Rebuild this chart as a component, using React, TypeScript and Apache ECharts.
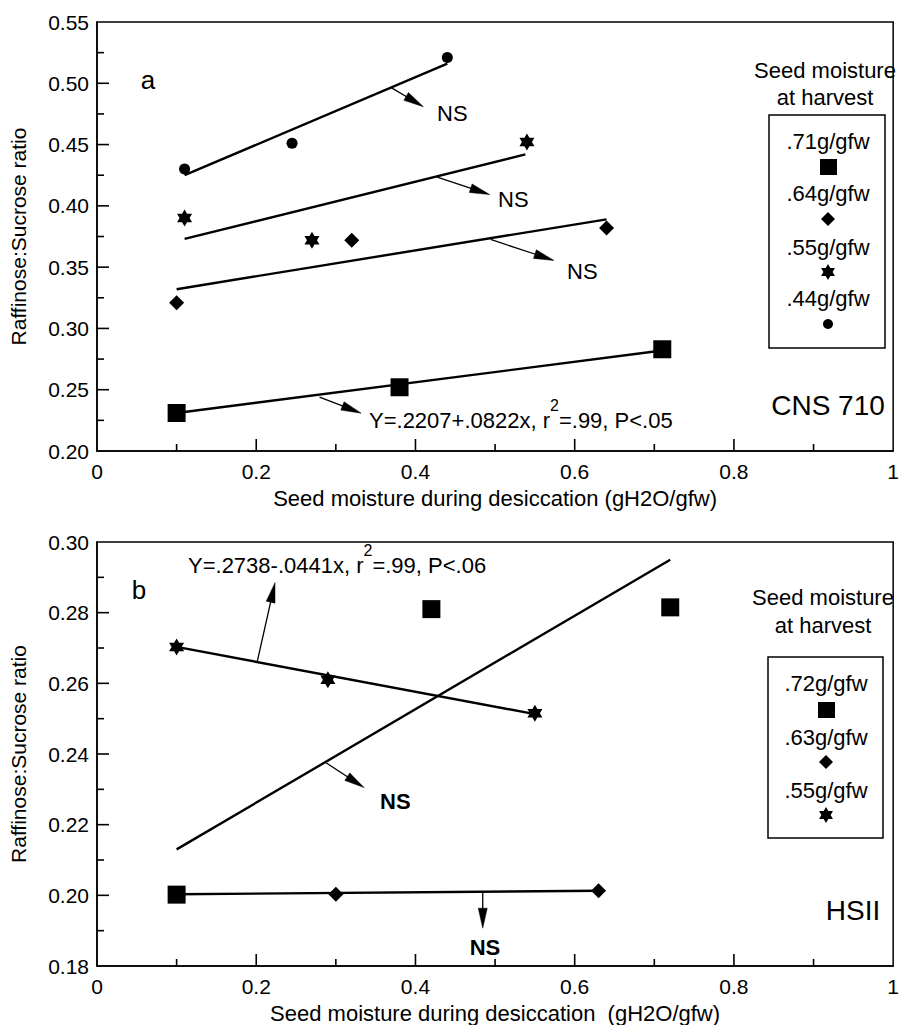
import React, { useEffect, useRef } from 'react';
import * as echarts from 'echarts';

const FONT = '"Liberation Sans", Arial, Helvetica, sans-serif';

const xTickLabels = ['0', '0.2', '0.4', '0.6', '0.8', '1'];
const yTickLabelsA = ['0.20', '0.25', '0.30', '0.35', '0.40', '0.45', '0.50', '0.55'];
const yTickLabelsB = ['0.18', '0.20', '0.22', '0.24', '0.26', '0.28', '0.30'];
const xMajorTicks = [0.2, 0.4, 0.6, 0.8];
const xMinorTicks = [0.1, 0.3, 0.5, 0.7, 0.9];
const yMajorTicksA = [0.25, 0.30, 0.35, 0.40, 0.45, 0.50];
const yMinorTicksA = [0.225, 0.275, 0.325, 0.375, 0.425, 0.475, 0.525];
const yMajorTicksB = [0.20, 0.22, 0.24, 0.26, 0.28];
const yMinorTicksB = [0.19, 0.21, 0.23, 0.25, 0.27, 0.29];

const a71 = [[0.10, 0.231], [0.38, 0.252], [0.71, 0.283]];
const a64 = [[0.10, 0.321], [0.32, 0.372], [0.64, 0.382]];
const a55 = [[0.11, 0.390], [0.27, 0.372], [0.54, 0.452]];
const a44 = [[0.11, 0.430], [0.245, 0.451], [0.44, 0.521]];
const a71Fit = [[0.10, 0.231], [0.71, 0.282]];
const a64Fit = [[0.10, 0.332], [0.64, 0.389]];
const a55Fit = [[0.11, 0.373], [0.538, 0.442]];
const a44Fit = [[0.11, 0.425], [0.44, 0.516]];
const aArrows = [
  [0.370, 0.4963, 0.4099, 0.4809],
  [0.4273, 0.4235, 0.4932, 0.4092],
  [0.4944, 0.3726, 0.5739, 0.3555],
  [0.2795, 0.2440, 0.3317, 0.2309],
];

const b72 = [[0.10, 0.2002], [0.42, 0.281], [0.72, 0.2815]];
const b63 = [[0.30, 0.2003], [0.63, 0.2013]];
const b55 = [[0.10, 0.2703], [0.29, 0.261], [0.55, 0.2515]];
const b72Fit = [[0.10, 0.213], [0.72, 0.295]];
const b63Fit = [[0.10, 0.2003], [0.63, 0.2013]];
const b55Fit = [[0.10, 0.2703], [0.55, 0.2513]];
const bArrows = [
  [0.2012, 0.2661, 0.2236, 0.2885],
  [0.2857, 0.2378, 0.3354, 0.2305],
  [0.4845, 0.2010, 0.4845, 0.1907],
];

const STAR_PATH =
  'path://M0,-10 L2.887,-5 L8.66,-5 L5.774,0 L8.66,5 L2.887,5 L0,10 L-2.887,5 L-8.66,5 L-5.774,0 L-8.66,-5 L-2.887,-5 Z';

function starPoints(cx: number, cy: number, r: number) {
  const pts: number[][] = [];
  for (let i = 0; i < 12; i++) {
    const ang = (-90 + i * 30) * Math.PI / 180;
    const rr = i % 2 === 0 ? r : r / Math.sqrt(3);
    pts.push([cx + rr * Math.cos(ang), cy + rr * Math.sin(ang)]);
  }
  return pts;
}

function text(x: number, y: number, t: string, size: number, align = 'center', weight = 'normal') {
  return {
    type: 'text', x, y, z: 50,
    style: { text: t, fill: '#000', fontSize: size, fontFamily: FONT, fontWeight: weight, align, verticalAlign: 'middle' },
  };
}

function equation(x: number, y: number, before: string, after: string) {
  return {
    type: 'text', x, y, z: 50,
    style: {
      text: `{a|${before}}{s|2}{a|${after}}`,
      fill: '#000', fontFamily: FONT, fontSize: 22, align: 'left', verticalAlign: 'middle',
      rich: {
        a: { fontSize: 22, fontFamily: FONT, fill: '#000', lineHeight: 34, verticalAlign: 'bottom' },
        s: { fontSize: 16, fontFamily: FONT, fill: '#000', verticalAlign: 'top' },
      },
    },
  };
}

function legendGraphic(cx: number, titleY: number[], box: number[], entries: { label: string; ly: number; sy: number; kind: string }[]) {
  const els: any[] = [];
  els.push(text(cx - 3, titleY[0], 'Seed moisture', 22));
  els.push(text(cx - 3, titleY[1], 'at harvest', 22));
  els.push({
    type: 'rect', z: 40,
    shape: { x: box[0], y: box[1], width: box[2] - box[0], height: box[3] - box[1] },
    style: { fill: 'none', stroke: '#000', lineWidth: 1.5 },
  });
  entries.forEach((e) => {
    els.push(text(cx, e.ly, e.label, 22));
    if (e.kind === 'rect') {
      els.push({ type: 'rect', z: 50, shape: { x: cx - 8, y: e.sy - 8, width: 17, height: 16 }, style: { fill: '#000' } });
    } else if (e.kind === 'diamond') {
      els.push({ type: 'polygon', z: 50, shape: { points: [[cx, e.sy - 7], [cx + 7, e.sy], [cx, e.sy + 7], [cx - 7, e.sy]] }, style: { fill: '#000' } });
    } else if (e.kind === 'star') {
      els.push({ type: 'polygon', z: 50, shape: { points: starPoints(cx, e.sy, 8) }, style: { fill: '#000' } });
    } else {
      els.push({ type: 'circle', z: 50, shape: { cx, cy: e.sy, r: 5 }, style: { fill: '#000' } });
    }
  });
  return els;
}

function arrowRender(params: any, api: any) {
  const p1 = api.coord([api.value(0), api.value(1)]);
  const p2 = api.coord([api.value(2), api.value(3)]);
  const dx = p2[0] - p1[0];
  const dy = p2[1] - p1[1];
  const L = Math.hypot(dx, dy) || 1;
  const ux = dx / L;
  const uy = dy / L;
  const hl = 20;
  const hw = 4.5;
  const bx = p2[0] - ux * hl;
  const by = p2[1] - uy * hl;
  return {
    type: 'group',
    children: [
      { type: 'line', shape: { x1: p1[0], y1: p1[1], x2: bx + ux * 2, y2: by + uy * 2 }, style: { stroke: '#000', lineWidth: 1.3 } },
      { type: 'polygon', shape: { points: [[p2[0], p2[1]], [bx - uy * hw, by + ux * hw], [bx + uy * hw, by - ux * hw]] }, style: { fill: '#000', stroke: '#000', lineWidth: 0.5 } },
    ],
  };
}

// tick item: [x, y, axisFlag(0 = x axis tick, 1 = y axis tick), major(1) / minor(0)]
function tickRender(params: any, api: any) {
  const p = api.coord([api.value(0), api.value(1)]);
  const len = api.value(3) ? 12 : 7;
  const isX = api.value(2) === 0;
  return {
    type: 'rect',
    shape: isX
      ? { x: p[0] - 0.8, y: p[1] - len, width: 1.6, height: len }
      : { x: p[0], y: p[1] - 0.8, width: len, height: 1.6 },
    style: { fill: '#000' },
  };
}

function ticks(idx: number, xMin: number, yMin: number, yMaj: number[], yMnr: number[]) {
  const data: number[][] = [];
  xMajorTicks.forEach((v) => data.push([v, yMin, 0, 1]));
  xMinorTicks.forEach((v) => data.push([v, yMin, 0, 0]));
  yMaj.forEach((v) => data.push([xMin, v, 1, 1]));
  yMnr.forEach((v) => data.push([xMin, v, 1, 0]));
  return {
    type: 'custom',
    xAxisIndex: idx,
    yAxisIndex: idx,
    renderItem: tickRender,
    encode: { x: 0, y: 1 },
    clip: false,
    z: 20,
    silent: true,
    data,
  };
}

function xAxisCfg(gridIndex: number) {
  return {
    type: 'value', gridIndex, min: 0, max: 1, interval: 0.2,
    name: gridIndex === 0 ? 'Seed moisture during desiccation (gH2O/gfw)' : 'Seed moisture during desiccation  (gH2O/gfw)',
    nameLocation: 'middle', nameGap: 36,
    nameTextStyle: { color: '#000', fontSize: 22, fontFamily: FONT },
    axisLine: { show: true, lineStyle: { color: '#000', width: 1.5 } },
    axisTick: { show: false },
    minorTick: { show: false },
    splitLine: { show: false },
    minorSplitLine: { show: false },
    axisLabel: { color: '#000', fontSize: 21, fontFamily: FONT, margin: 10, formatter: (v: number) => xTickLabels[Math.round(v / 0.2)] ?? '' },
  };
}

function yAxisCfg(gridIndex: number, min: number, max: number, interval: number, labels: string[]) {
  return {
    type: 'value', gridIndex, min, max, interval,
    name: 'Raffinose:Sucrose ratio', nameLocation: 'middle', nameGap: 68,
    nameTextStyle: { color: '#000', fontSize: 21, fontFamily: FONT },
    axisLine: { show: true, lineStyle: { color: '#000', width: 1.5 } },
    axisTick: { show: false },
    minorTick: { show: false },
    splitLine: { show: false },
    minorSplitLine: { show: false },
    axisLabel: { color: '#000', fontSize: 21, fontFamily: FONT, margin: 8, formatter: (v: number) => labels[Math.round((v - min) / interval)] ?? '' },
  };
}

function scatter(idx: number, data: number[][], symbol: string, size: any) {
  return { type: 'scatter', xAxisIndex: idx, yAxisIndex: idx, symbol, symbolSize: size, itemStyle: { color: '#000', opacity: 1 }, z: 5, data };
}

function fit(idx: number, data: number[][]) {
  return { type: 'line', xAxisIndex: idx, yAxisIndex: idx, symbol: 'none', showSymbol: false, lineStyle: { color: '#000', width: 2.4 }, z: 3, data };
}

function arrows(idx: number, data: number[][]) {
  return { type: 'custom', xAxisIndex: idx, yAxisIndex: idx, renderItem: arrowRender, encode: { x: [0, 2], y: [1, 3] }, z: 4, data };
}

export default function App() {
  const ref = useRef<HTMLDivElement>(null);
  useEffect(() => {
    if (!ref.current) return;
    const chart = echarts.init(ref.current, null, { renderer: 'svg' });
    const graphic: any[] = [
      text(148, 80, 'a', 26),
      text(437, 113, 'NS', 22, 'left'),
      text(498, 199, 'NS', 22, 'left'),
      text(567, 271, 'NS', 22, 'left'),
      equation(369, 414, 'Y=.2207+.0822x, r', '=.99, P<.05'),
      text(828, 405, 'CNS 710', 28),
      text(139, 590, 'b', 26),
      equation(188, 559, 'Y=.2738-.0441x, r', '=.99, P<.06'),
      text(380, 801, 'NS', 22, 'left', 'bold'),
      text(485, 947, 'NS', 22, 'center', 'bold'),
      text(853, 910, 'HSII', 28),
      ...legendGraphic(828, [70, 97], [769, 115, 885, 348], [
        { label: '.71g/gfw', ly: 141, sy: 167, kind: 'rect' },
        { label: '.64g/gfw', ly: 193, sy: 219, kind: 'diamond' },
        { label: '.55g/gfw', ly: 247, sy: 272, kind: 'star' },
        { label: '.44g/gfw', ly: 298, sy: 324, kind: 'circle' },
      ]),
      ...legendGraphic(826, [597, 625], [768, 657, 883, 838], [
        { label: '.72g/gfw', ly: 683, sy: 710, kind: 'rect' },
        { label: '.63g/gfw', ly: 737, sy: 762, kind: 'diamond' },
        { label: '.55g/gfw', ly: 790, sy: 815, kind: 'star' },
      ]),
    ];
    chart.setOption({
      animation: false,
      backgroundColor: '#fff',
      grid: [
        { left: 95, top: 22, width: 805, height: 429, show: true, borderColor: '#000', borderWidth: 1.5, backgroundColor: 'transparent' },
        { left: 95, top: 542, width: 805, height: 428, show: true, borderColor: '#000', borderWidth: 1.5, backgroundColor: 'transparent' },
      ],
      xAxis: [xAxisCfg(0), xAxisCfg(1)],
      yAxis: [yAxisCfg(0, 0.2, 0.55, 0.05, yTickLabelsA), yAxisCfg(1, 0.18, 0.30, 0.02, yTickLabelsB)],
      series: [
        fit(0, a71Fit), fit(0, a64Fit), fit(0, a55Fit), fit(0, a44Fit),
        scatter(0, a71, 'rect', 18),
        scatter(0, a64, 'diamond', 15),
        scatter(0, a55, STAR_PATH, [15, 17]),
        scatter(0, a44, 'circle', 11),
        arrows(0, aArrows),
        ticks(0, 0, 0.2, yMajorTicksA, yMinorTicksA),
        fit(1, b72Fit), fit(1, b63Fit), fit(1, b55Fit),
        scatter(1, b72, 'rect', 18),
        scatter(1, b63, 'diamond', 15),
        scatter(1, b55, STAR_PATH, [15, 17]),
        arrows(1, bArrows),
        ticks(1, 0, 0.18, yMajorTicksB, yMinorTicksB),
      ],
      graphic,
    });
    return () => chart.dispose();
  }, []);
  return <div ref={ref} style={{ position: 'absolute', left: 0, top: 0, width: 902, height: 1025, background: '#fff' }} />;
}
